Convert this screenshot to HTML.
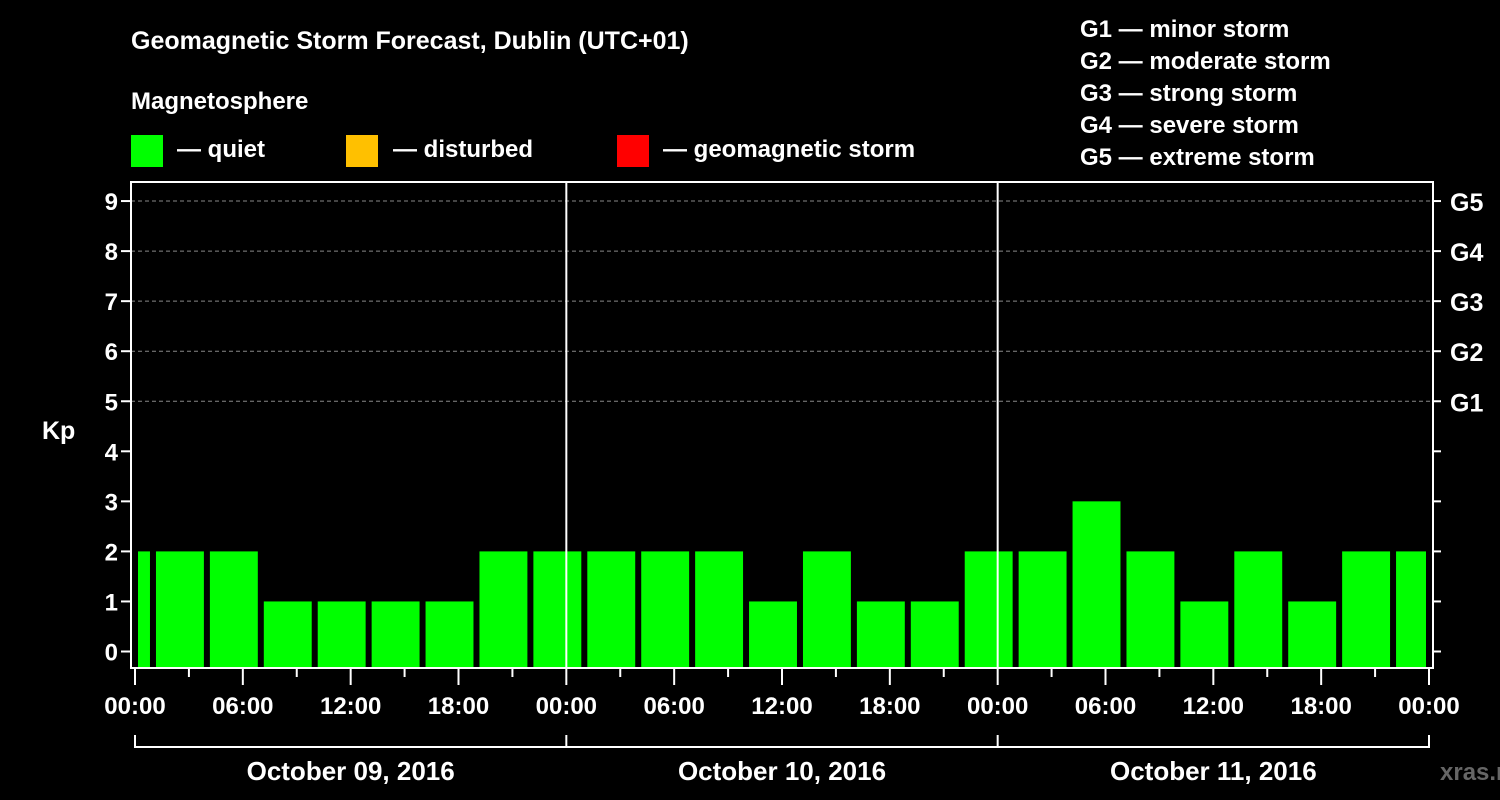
<!DOCTYPE html>
<html><head><meta charset="utf-8"><style>
html,body{margin:0;padding:0;background:#000;}
svg{display:block;font-family:"Liberation Sans",Arial,sans-serif;font-weight:bold;}
</style></head><body>
<svg id="c" width="1500" height="800" viewBox="0 0 1500 800">
<text x="131" y="49" fill="#fff" font-size="25">Geomagnetic Storm Forecast, Dublin (UTC+01)</text>
<text x="131" y="109" fill="#fff" font-size="24">Magnetosphere</text>
<g><rect x="131" y="135" width="32" height="32" fill="#00ff00"/><text x="177" y="157" fill="#fff" font-size="24">— quiet</text></g>
<g><rect x="346" y="135" width="32" height="32" fill="#ffc000"/><text x="393" y="157" fill="#fff" font-size="24">— disturbed</text></g>
<g><rect x="617" y="135" width="32" height="32" fill="#ff0000"/><text x="663" y="157" fill="#fff" font-size="24">— geomagnetic storm</text></g>
<g fill="#fff" font-size="24">
<text x="1080" y="37">G1 — minor storm</text>
<text x="1080" y="69">G2 — moderate storm</text>
<text x="1080" y="101">G3 — strong storm</text>
<text x="1080" y="133">G4 — severe storm</text>
<text x="1080" y="165">G5 — extreme storm</text>
</g>
<text x="42" y="439" fill="#fff" font-size="25">Kp</text>
<g id="grid"></g><g id="bars"></g><g id="axes"></g>
<text x="1440" y="780" fill="#666" font-size="24">xras.ru</text>
</svg>
<script>
const kpValues=[2,2,2,1,1,1,1,2,2,2,2,2,1,2,1,1,2,2,3,2,1,2,1,2,2];
const dayLabels=["October 09, 2016","October 10, 2016","October 11, 2016"];
const timeLabels=["00:00","06:00","12:00","18:00"];
const gLabels=["G1","G2","G3","G4","G5"];
const NS="http://www.w3.org/2000/svg";
const X0=135,X1=1429,HOURS=72,Y0=651.5,YU=50.05,TOP=182,BOT=668,L=131,R=1433;
const xs=h=>X0+(X1-X0)*h/HOURS;
const ys=v=>Y0-v*YU;
function mk(p,t,a){const e=document.createElementNS(NS,t);for(const k in a)e.setAttribute(k,a[k]);p.appendChild(e);return e;}
const grid=document.getElementById('grid'),bars=document.getElementById('bars'),axes=document.getElementById('axes');
for(let v=5;v<=9;v++){const l=mk(grid,'line',{x1:L,x2:R,y1:ys(v),y2:ys(v),stroke:'#888','stroke-dasharray':'4,3','stroke-width':1});

}
kpValues.forEach((v,i)=>{let h0=-2+3*i,h1=h0+3;let a=xs(Math.max(h0,0)),b=xs(Math.min(h1,HOURS));
a+=3;b-=3;
const col=v>=5?'#ff0000':(v>=4?'#ffc000':'#00ff00');
const r=mk(bars,'rect',{x:a,y:ys(v),width:b-a,height:BOT-ys(v),fill:col});

});
for(let d=1;d<3;d++){const l=mk(axes,'line',{x1:xs(24*d),x2:xs(24*d),y1:TOP,y2:BOT,stroke:'#fff','stroke-width':2});

}
const fr=mk(axes,'rect',{x:L,y:TOP,width:R-L,height:BOT-TOP,fill:'none',stroke:'#fff','stroke-width':2});


for(let v=0;v<=9;v++){const y=ys(v);
mk(axes,'line',{x1:L-10,x2:L,y1:y,y2:y,stroke:'#fff','stroke-width':2});
mk(axes,'line',{x1:R,x2:R+8,y1:y,y2:y,stroke:'#fff','stroke-width':2});
const t=mk(axes,'text',{x:118,y:y+9,fill:'#fff','font-size':24,'text-anchor':'end'});t.textContent=v;


if(v>=5){const g=mk(axes,'text',{x:1450,y:y+10,fill:'#fff','font-size':25});g.textContent=gLabels[v-5];

}}
for(let h=0;h<=HOURS;h+=3){const x=xs(h),maj=h%6===0;
mk(axes,'line',{x1:x,x2:x,y1:BOT,y2:maj?BOT+17:BOT+9,stroke:'#fff','stroke-width':2});
if(maj){const t=mk(axes,'text',{x:x,y:714,fill:'#fff','font-size':24,'text-anchor':'middle'});t.textContent=timeLabels[(h/6)%4];

}}
mk(axes,'line',{x1:xs(0),x2:xs(HOURS),y1:747,y2:747,stroke:'#fff','stroke-width':2});
for(let d=0;d<=3;d++)mk(axes,'line',{x1:xs(24*d),x2:xs(24*d),y1:735,y2:748,stroke:'#fff','stroke-width':2});
dayLabels.forEach((s,d)=>{const t=mk(axes,'text',{x:xs(24*d+12),y:780,fill:'#fff','font-size':26,'text-anchor':'middle'});t.textContent=s;

});
</script>
</body></html>
